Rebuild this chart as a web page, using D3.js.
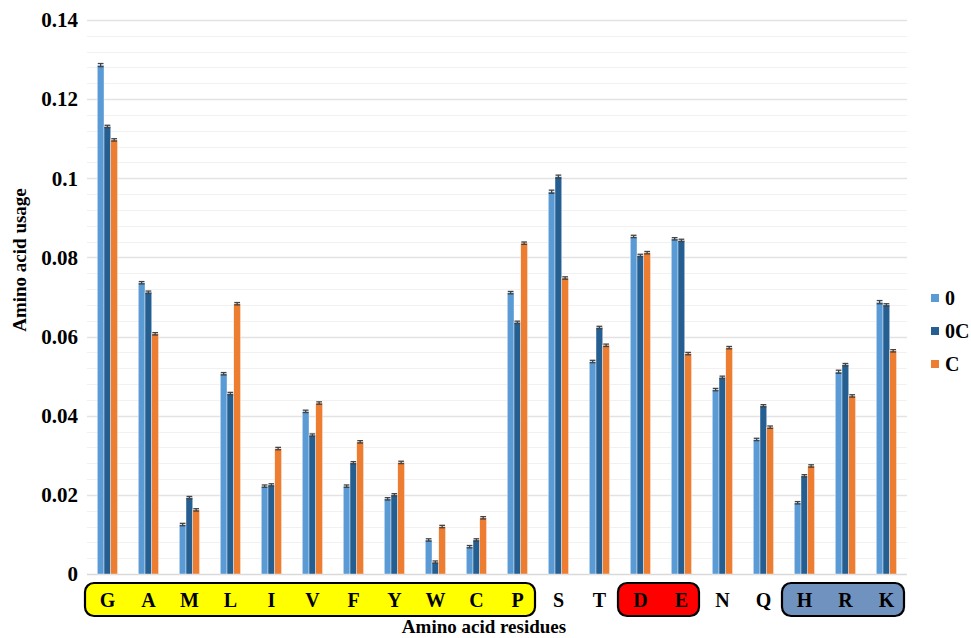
<!DOCTYPE html>
<html>
<head>
<meta charset="utf-8">
<script src="https://cdn.jsdelivr.net/npm/d3@7"></script>
<style>
  html, body { margin: 0; padding: 0; background: #fff; }
  svg { display: block; }
</style>
</head>
<body>
<svg id="chart" width="971" height="638"></svg>
<script>
// Amino acid residues along the x axis
const residues = ["G","A","M","L","I","V","F","Y","W","C","P","S","T","D","E","N","Q","H","R","K"];
const seriesNames = ["0", "0C", "C"];
const seriesColors = ["#5b9bd5", "#255e91", "#ed7d31"];

// Mean amino acid usage per series
const usage0  = [0.1286,0.0736,0.0125,0.0506,0.0222,0.0411,0.0222,0.0190,0.0086,0.0069,0.0711,0.0966,0.0537,0.0853,0.0847,0.0466,0.0340,0.0180,0.0511,0.0687];
const usage0C = [0.1131,0.0712,0.0193,0.0456,0.0225,0.0351,0.0281,0.0200,0.0030,0.0086,0.0636,0.1004,0.0623,0.0805,0.0843,0.0497,0.0425,0.0248,0.0529,0.0680];
const usageC  = [0.1097,0.0607,0.0162,0.0683,0.0317,0.0432,0.0334,0.0282,0.0120,0.0142,0.0836,0.0748,0.0578,0.0812,0.0557,0.0572,0.0371,0.0273,0.0450,0.0564];

// Standard error per bar
const err0  = [0.0004,0.0003,0.0003,0.0003,0.0003,0.0003,0.0003,0.0003,0.0003,0.0003,0.0003,0.0004,0.0003,0.0003,0.0003,0.0003,0.0003,0.0003,0.0004,0.0004];
const err0C = [0.0003,0.0003,0.0003,0.0003,0.0003,0.0003,0.0003,0.0003,0.0003,0.0003,0.0003,0.0004,0.0003,0.0003,0.0003,0.0003,0.0003,0.0003,0.0003,0.0003];
const errC  = [0.0003,0.0003,0.0003,0.0003,0.0003,0.0003,0.0003,0.0003,0.0003,0.0003,0.0003,0.0003,0.0003,0.0003,0.0003,0.0003,0.0003,0.0003,0.0003,0.0003];

const yTicks = [0, 0.02, 0.04, 0.06, 0.08, 0.1, 0.12, 0.14];
const yTickLabels = ["0", "0.02", "0.04", "0.06", "0.08", "0.1", "0.12", "0.14"];
const minorStep = 0.004;

// Residue groupings highlighted under the axis
const groups = [
  { from: "G", to: "P", fill: "#ffff00" },
  { from: "D", to: "E", fill: "#ff0000" },
  { from: "H", to: "K", fill: "#7092be" }
];

const values = [usage0, usage0C, usageC];
const errors = [err0, err0C, errC];

const SERIF = "'Liberation Serif', 'Times New Roman', Tinos, serif";
function serif(sel, size) {
  return sel.style("font-family", SERIF).style("font-weight", "bold")
            .style("font-size", size + "px").style("fill", "#000");
}

const svg = d3.select("#chart");
const plot = { left: 87, right: 907, top: 20, bottom: 574 };

const x = d3.scaleBand().domain(residues).range([plot.left, plot.right]).paddingInner(0).paddingOuter(0);
const inner = d3.scaleBand().domain(d3.range(3)).range([x.bandwidth() * 0.25, x.bandwidth() * 0.745]).padding(0);
const y = d3.scaleLinear().domain([0, 0.14]).range([plot.bottom, plot.top]);

// Minor gridlines
const minor = d3.range(0, 0.1401, minorStep);
svg.append("g").selectAll("line").data(minor).join("line")
  .attr("x1", plot.left).attr("x2", plot.right)
  .attr("y1", d => Math.round(y(d)) + 0.5).attr("y2", d => Math.round(y(d)) + 0.5)
  .attr("stroke", "#f1f1f1").attr("stroke-width", 1.2);

// Major gridlines
svg.append("g").selectAll("line").data(yTicks).join("line")
  .attr("x1", plot.left).attr("x2", plot.right)
  .attr("y1", d => Math.round(y(d)) + 0.5).attr("y2", d => Math.round(y(d)) + 0.5)
  .attr("stroke", d => d === 0 ? "#d9d9d9" : "#e3e3e3").attr("stroke-width", 1.5);

// Y axis tick labels
const yAxis = d3.axisLeft(y).tickValues(yTicks).tickFormat((d, i) => yTickLabels[i]).tickSize(0).tickPadding(9);
const yg = svg.append("g").attr("transform", `translate(${plot.left},0)`).call(yAxis);
yg.select(".domain").remove();
serif(yg.selectAll("text"), 21);

// Bars
const barG = svg.append("g");
residues.forEach((r, i) => {
  values.forEach((vals, s) => {
    const bx = x(r) + inner(s);
    const bw = inner.bandwidth();
    barG.append("rect")
      .attr("x", bx).attr("width", bw)
      .attr("y", y(vals[i])).attr("height", y(0) - y(vals[i]))
      .attr("fill", seriesColors[s])
      .attr("stroke", "#ffffff").attr("stroke-width", 0.4);
    // Error bar
    const e = errors[s][i];
    const cx = bx + bw / 2;
    const eg = barG.append("g").attr("stroke", "#444").attr("stroke-width", 1.3);
    eg.append("line").attr("x1", cx).attr("x2", cx).attr("y1", y(vals[i] + e)).attr("y2", y(vals[i] - e));
    eg.append("line").attr("x1", bx + 0.5).attr("x2", bx + bw - 0.5).attr("y1", y(vals[i] + e)).attr("y2", y(vals[i] + e));
    eg.append("line").attr("x1", bx + 0.5).attr("x2", bx + bw - 0.5).attr("y1", y(vals[i] - e)).attr("y2", y(vals[i] - e));
  });
});

// Group highlight boxes under the residue labels
const boxG = svg.append("g");
groups.forEach(g => {
  const x0 = x(g.from) - 2;
  const x1 = x(g.to) + x.bandwidth() - 3;
  boxG.append("rect")
    .attr("x", x0).attr("y", 583).attr("width", x1 - x0).attr("height", 33)
    .attr("rx", 9).attr("ry", 9)
    .attr("fill", g.fill).attr("stroke", "#000").attr("stroke-width", 2.2);
});

// Residue labels
serif(svg.append("g").selectAll("text").data(residues).join("text")
  .attr("x", d => x(d) + x.bandwidth() / 2)
  .attr("y", 607)
  .attr("text-anchor", "middle")
  .text(d => d), 20);

// Axis titles
serif(svg.append("text")
  .attr("x", 484).attr("y", 633)
  .attr("text-anchor", "middle")
  .text("Amino acid residues"), 19);

serif(svg.append("text")
  .attr("transform", "translate(26,260) rotate(-90)")
  .attr("text-anchor", "middle")
  .text("Amino acid usage"), 19);

// Legend
const legend = svg.append("g");
seriesNames.forEach((n, i) => {
  const cy = 298 + i * 33;
  legend.append("rect").attr("x", 931).attr("y", cy - 4).attr("width", 8).attr("height", 8).attr("fill", seriesColors[i]);
  serif(legend.append("text").attr("x", 945).attr("y", cy + 7).text(n), 20);
});
</script>
</body>
</html>
